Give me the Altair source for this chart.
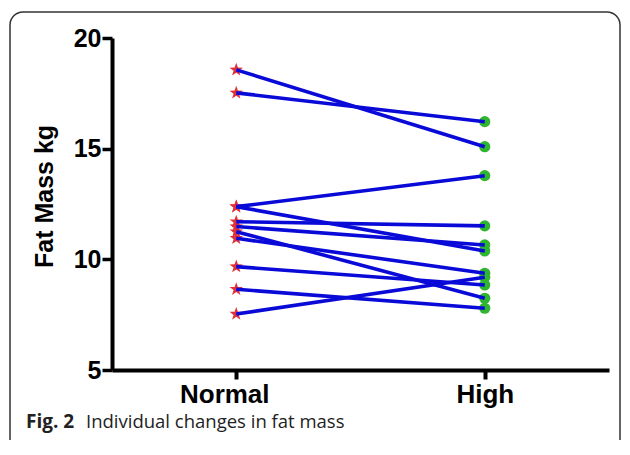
import altair as alt
import pandas as pd

# ---- data ----
conditions = ["Normal", "High"]
subjects = list(range(1, 12))
normal_vals = [18.56, 17.52, 12.38, 12.38, 11.70, 11.48, 11.25, 10.95, 9.67, 8.65, 7.53]
high_vals = [15.09, 16.22, 13.78, 10.38, 11.51, 10.65, 8.24, 9.37, 8.84, 7.79, 9.19]
y_ticks = [5, 10, 15, 20]
y_title = "Fat Mass kg"
caption_bold = ["Fig. 2"]
caption_rest = ["Individual changes in fat mass"]

STAR = ("M0,-1L0.235,-0.324L0.951,-0.309L0.380,0.124L0.588,0.809L0,0.4"
        "L-0.588,0.809L-0.380,0.124L-0.951,-0.309L-0.235,-0.324Z")
marker_shapes = [STAR, "circle"]
marker_colors = ["#e0303a", "#2fb52f"]
marker_sizes = [200, 125]

rows = []
for s, n, h in zip(subjects, normal_vals, high_vals):
    rows.append({"subject": s, "condition": conditions[0], "value": n})
    rows.append({"subject": s, "condition": conditions[1], "value": h})
df = pd.DataFrame(rows)

FONT = "Liberation Sans"

x_enc = alt.X(
    "condition:N",
    sort=conditions,
    scale=alt.Scale(type="point", padding=0.5),
    axis=alt.Axis(
        title=None,
        labelAngle=0,
        labelFontSize=26,
        labelFontWeight="bold",
        labelFont=FONT,
        labelColor="black",
        labelPadding=2,
        labelOffset={"condition": {"test": "datum.value === 'Normal'", "value": -12}, "value": 0},
        domainColor="black",
        domainWidth=4,
        tickColor="black",
        tickWidth=4,
        tickSize=9,
        grid=False,
    ),
)
y_enc = alt.Y(
    "value:Q",
    scale=alt.Scale(domain=[5, 20], nice=False, zero=False),
    axis=alt.Axis(
        values=y_ticks,
        title=y_title,
        titleFontSize=25,
        titleFontWeight="bold",
        titleFont=FONT,
        titleColor="black",
        titleAngle=-90,
        titleAlign="center",
        titleBaseline="middle",
        titleX=-68,
        titleY=158,
        labelFontSize=25,
        labelFontWeight="bold",
        labelFont=FONT,
        labelColor="black",
        labelPadding=1,
        domainColor="black",
        domainWidth=4,
        tickColor="black",
        tickWidth=3.5,
        tickSize=10,
        grid=False,
    ),
)

base = alt.Chart(df)

points = base.mark_point(filled=True, opacity=1).encode(
    x=x_enc,
    y=y_enc,
    shape=alt.Shape("condition:N", scale=alt.Scale(domain=conditions, range=marker_shapes), legend=None),
    color=alt.Color("condition:N", scale=alt.Scale(domain=conditions, range=marker_colors), legend=None),
    size=alt.Size("condition:N", scale=alt.Scale(domain=conditions, range=marker_sizes), legend=None),
)

lines = base.mark_line(color="#0a0ad8", strokeWidth=3.6).encode(
    x=x_enc, y=y_enc, detail="subject:N"
)

one = pd.DataFrame({"a": [0]})

frame = alt.Chart(one).mark_rect(
    fillOpacity=0, stroke="#333333", strokeWidth=1.5, cornerRadius=13
).encode(
    x=alt.value(-102), x2=alt.value(508), y=alt.value(-26), y2=alt.value(440)
)

cap1 = alt.Chart(pd.DataFrame({"t": caption_bold})).mark_text(
    align="left", baseline="alphabetic", font="Open Sans", fontSize=19,
    fontWeight="bold", color="#222222"
).encode(x=alt.value(-86), y=alt.value(390), text="t:N")

cap2 = alt.Chart(pd.DataFrame({"t": caption_rest})).mark_text(
    align="left", baseline="alphabetic", font="Open Sans", fontSize=18.5,
    color="#222222"
).encode(x=alt.value(-26), y=alt.value(390), text="t:N")

chart = alt.layer(points, lines, frame, cap1, cap2).properties(
    width=497,
    height=332,
    padding={"left": 104, "top": 30, "right": 13, "bottom": 70},
    autosize=alt.AutoSizeParams(type="none"),
    background="white",
).configure_view(stroke=None)

chart.save("out.html", embed_options={"renderer": "svg", "actions": False})
